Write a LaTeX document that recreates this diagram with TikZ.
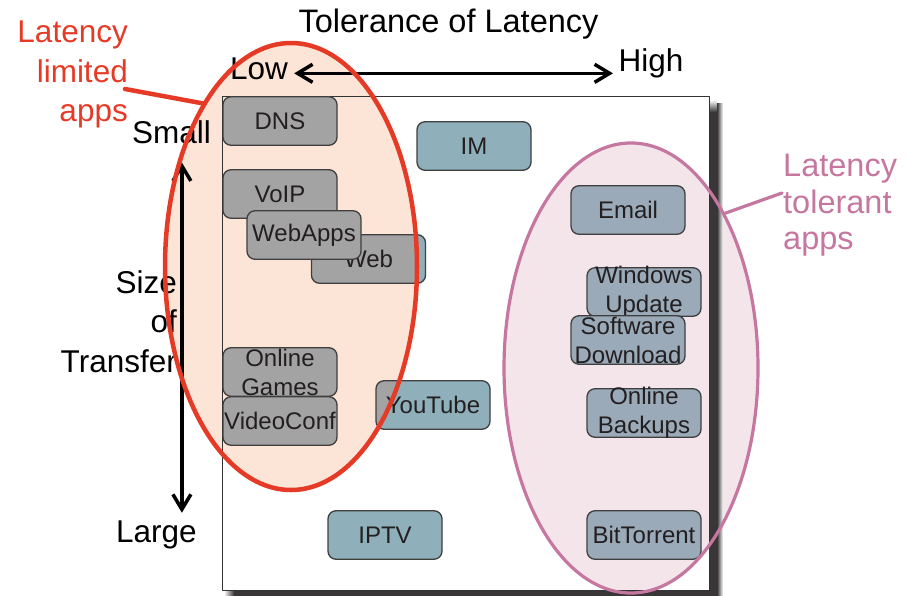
\documentclass[tikz,border=0pt]{standalone}
\usepackage{fontspec}
\setmainfont{Liberation Sans}
\usetikzlibrary{shapes.geometric,arrows.meta}
\definecolor{limred}{HTML}{E53A26}
\definecolor{limfill}{HTML}{FCE4D6}
\definecolor{tolpink}{HTML}{C6779F}
\definecolor{tolfill}{HTML}{F3E5EA}
\definecolor{appgray}{HTML}{A3A3A3}
\definecolor{appblue}{HTML}{8FB0BA}
\definecolor{tolblue}{HTML}{9AAAB8}
\definecolor{appedge}{HTML}{3F3F3F}
\definecolor{apptext}{HTML}{231F20}
\definecolor{shadowgray}{HTML}{383636}
\tikzset{
  app/.style={draw=appedge, line width=1.3pt, rounded corners=8pt, minimum width=114pt,
    minimum height=48.5pt, inner xsep=0pt, inner ysep=-3pt, align=center, text=apptext,
    font=\fontsize{24}{29}\selectfont},
  limapp/.style={app, fill=appgray},
  midapp/.style={app, fill=appblue},
  tolapp/.style={app, fill=tolblue},
  halfgray/.style={path picture={\fill[appgray] (lim.center) ellipse [x radius=\limrx pt, y radius=\limry pt];}},
  lbl/.style={inner sep=0pt, font=\fontsize{31.5}{39.5}\selectfont},
}
\begin{document}
\begin{tikzpicture}[line join=round, line cap=round, >={Straight Barb[length=15pt,width=18pt]}, x=1pt, y=-1pt]
	\def\limrx{126}
	\def\limry{223.5}
	\def\tolrx{127}
	\def\tolry{225}
	\useasboundingbox (0,0) rectangle (909,596);
	% chart area
	\fill[white] (222,97) rectangle (709,590);
	\node[ellipse, fill=limfill, minimum width=2*\limrx pt, minimum height=2*\limry pt, inner sep=0pt] (lim) at (291,266.5) {};
	\node[ellipse, fill=tolfill, minimum width=2*\tolrx pt, minimum height=2*\tolry pt, inner sep=0pt] (tol) at (631,368) {};
	\shade[top color=white, bottom color=shadowgray] (709,100) rectangle (717,112);
	\fill[shadowgray] (709,112) rectangle (717,596);
	\shade[left color=shadowgray, right color=white] (717,104) rectangle (723,596);
	\shade[left color=white, right color=shadowgray] (224,590) rectangle (234,596);
	\fill[shadowgray] (234,590) rectangle (709,596);
	\draw[black!80, line width=1pt] (222,97) rectangle (709,590);
	% applications
	\node[limapp] (dns) at (280,121) {DNS};
	\node[midapp] (im) at (474,146) {IM};
	\node[limapp] (voip) at (280,194) {VoIP};
	\node[midapp, halfgray] (web) at (368.5,259) {Web};
	\node[limapp] (webapps) at (304,235) {WebApps};
	\node[limapp] (games) at (280,372) {Online\\Games};
	\node[limapp] (vconf) at (280,421) {VideoConf};
	\node[midapp, halfgray] (youtube) at (433,405) {YouTube};
	\node[midapp] (iptv) at (385,535) {IPTV};
	\node[tolapp] (email) at (628,210) {Email};
	\node[tolapp] (winupd) at (644,292) {Windows\\Update};
	\node[tolapp] (swdl) at (628,340) {Software\\Download};
	\node[tolapp] (backup) at (644,413) {Online\\Backups};
	\node[tolapp] (bittorrent) at (644,535) {BitTorrent};
	% axes
	\node[lbl, font=\fontsize{32.5}{39}\selectfont, anchor=base] (title) at (448.5,33) {Tolerance of Latency};
	\node[lbl, anchor=base west] (low) at (230,80) {Low};
	\node[lbl, anchor=base west] (high) at (618.5,72) {High};
	\node[lbl, anchor=base west] (small) at (132,144) {Small};
	\node[lbl, anchor=base west] (large) at (116,542) {Large};
	\node[lbl, align=right, anchor=north east] (size) at (177,270) {Size\\of\\Transfer};
	\draw[<->, line width=3.5pt] ([xshift=6pt, yshift=-4pt]low.east) -- ([xshift=-5.5pt, yshift=-4pt]low.east -| high.west);
	\draw[<->, line width=3.5pt] ([xshift=10.3pt, yshift=-18pt]small.south) -- ([xshift=10.3pt, yshift=7.4pt]small.south |- large.north);
	% groups
	\draw[limred, line width=4.5pt] (lim.center) ellipse [x radius=\limrx pt, y radius=\limry pt];
	\draw[tolpink, line width=3.2pt] (tol.center) ellipse [x radius=\tolrx pt, y radius=\tolry pt];
	\node[lbl, text=limred, align=right, anchor=north east] (limlbl) at (128,21) {Latency\\limited\\apps};
	\node[lbl, text=tolpink, font=\fontsize{32.5}{36.5}\selectfont, align=left, anchor=north west] (tollbl) at (783,154) {Latency\\tolerant\\apps};
	\coordinate (limtail) at (125,89);
	\coordinate (toltail) at (782,193);
	\draw[limred, line width=4.5pt] (limtail) -- (lim.118);
	\draw[tolpink, line width=3.2pt] (toltail) -- (tol.59);
\end{tikzpicture}
\end{document}
